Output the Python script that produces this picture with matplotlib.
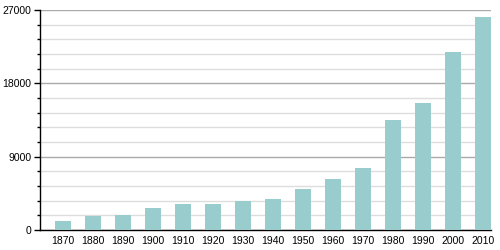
import matplotlib
matplotlib.use("Agg")
import matplotlib.pyplot as plt
from matplotlib.ticker import MultipleLocator

years = ["1870", "1880", "1890", "1900", "1910", "1920", "1930", "1940",
         "1950", "1960", "1970", "1980", "1990", "2000", "2010"]
population = [1100, 1750, 1880, 2740, 3230, 3200, 3600, 3840,
              5070, 6300, 7650, 13540, 15620, 21880, 26180]
yticks = [0, 9000, 18000, 27000]

plt.rcParams['font.family'] = ['Liberation Sans', 'DejaVu Sans']
fig = plt.figure(figsize=(5, 2.5), dpi=100)
ax = fig.add_axes([40/500, 20/250, 451/500, 220/250])

x = list(range(len(years)))
ax.bar(x, population, width=0.53, color="#99cccc", zorder=3)
ax.set_xlim(-0.77, len(years) - 1 + 0.27)
ax.set_ylim(0, 27000)
ax.set_yticks(yticks)
ax.set_yticklabels([str(v) for v in yticks], fontsize=7.5)
ax.yaxis.set_minor_locator(MultipleLocator(1800))
ax.grid(axis="y", which="major", color="#aaaaaa", linewidth=1, zorder=1)
ax.grid(axis="y", which="minor", color="#dddddd", linewidth=1, zorder=1)
ax.set_xticks(x)
ax.set_xticklabels(years, fontsize=7.5)
ax.tick_params(axis="x", length=0, pad=4)
ax.tick_params(axis="y", which="major", length=4, width=1, pad=2)
ax.tick_params(axis="y", which="minor", length=2.5, width=1)
for s in ["top", "right"]:
    ax.spines[s].set_visible(False)
ax.spines["left"].set_linewidth(1)
ax.spines["bottom"].set_linewidth(1)
fig.savefig("out.png", dpi=100)
